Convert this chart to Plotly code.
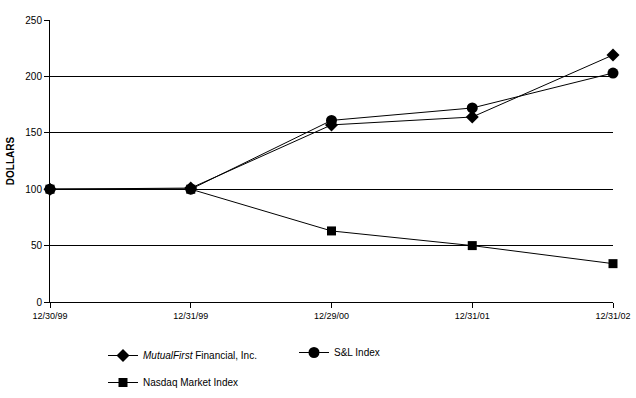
import plotly.graph_objects as go

dates = ["12/30/99", "12/31/99", "12/29/00", "12/31/01", "12/31/02"]
mutualfirst = [100, 101, 157, 164, 219]
sl_index = [100, 100, 161, 172, 203]
nasdaq = [100, 100, 63, 50, 34]
y_ticks = [0, 50, 100, 150, 200, 250]

FONT = "Liberation Sans, Arial, sans-serif"

fig = go.Figure()
fig.add_trace(go.Scatter(
    x=dates, y=mutualfirst, mode="lines+markers",
    name="<i>MutualFirst</i> Financial, Inc.",
    line=dict(color="black", width=1),
    marker=dict(symbol="diamond", size=10, color="black"),
    cliponaxis=False, legend="legend"))
fig.add_trace(go.Scatter(
    x=dates, y=nasdaq, mode="lines+markers",
    name="Nasdaq Market Index",
    line=dict(color="black", width=1),
    marker=dict(symbol="square", size=9, color="black"),
    cliponaxis=False, legend="legend3"))
fig.add_trace(go.Scatter(
    x=dates, y=sl_index, mode="lines+markers",
    name="S&L Index",
    line=dict(color="black", width=1),
    marker=dict(symbol="circle", size=11, color="black"),
    cliponaxis=False, legend="legend2"))

H = 282.0
def leg(xpx, toppx):
    return dict(x=(xpx - 50) / 563, y=-(toppx - 302) / H, xref="paper", yref="paper",
                xanchor="left", yanchor="top",
                font=dict(family=FONT, size=10, color="black"),
                bgcolor="rgba(0,0,0,0)", itemwidth=30)

fig.update_layout(
    width=636, height=398,
    margin=dict(l=50, r=23, t=20, b=96, autoexpand=False),
    paper_bgcolor="white", plot_bgcolor="white",
    font=dict(family=FONT, size=10, color="black"),
    showlegend=True,
    legend=leg(103, 341),
    legend2=leg(294, 338),
    legend3=leg(103, 368),
    xaxis=dict(type="category", range=[0, 4], showgrid=False, automargin=False,
               showline=True, linecolor="black", linewidth=1,
               ticks="outside", ticklen=5, tickcolor="black",
               tickfont=dict(family=FONT, size=9), zeroline=False),
    yaxis=dict(range=[0, 250], tickvals=y_ticks, showgrid=True, automargin=False,
               gridcolor="black", gridwidth=1,
               showline=True, linecolor="black", linewidth=1,
               ticks="outside", ticklen=5, tickcolor="black",
               tickfont=dict(family=FONT, size=10), zeroline=False,
               title=dict(text="<b>DOLLARS</b>", standoff=8,
                          font=dict(family=FONT, size=10))),
)

fig.write_html("out.html", config={"displayModeBar": False},
               post_script="document.body.style.margin='0';document.body.style.overflow='hidden';")
